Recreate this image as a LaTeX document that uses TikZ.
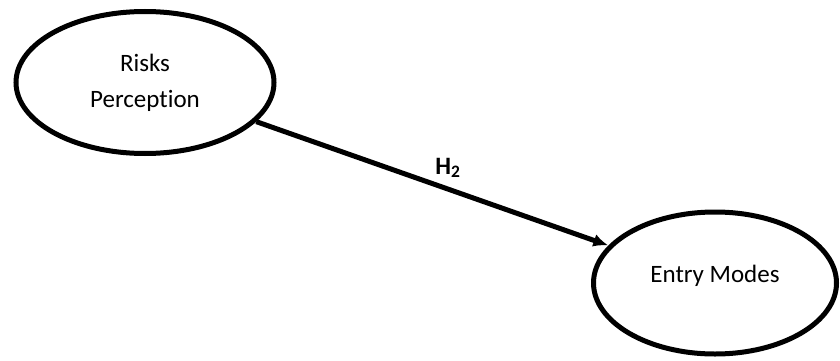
\documentclass[tikz,border=0pt]{standalone}
\usepackage{fontspec}
\setmainfont{Carlito}[Ligatures=CommonOff]
\usetikzlibrary{shapes.geometric,arrows.meta}
\tikzset{
  construct/.style={draw=black, ellipse, line width=5pt, align=center, inner sep=0pt, font=\fontsize{25}{36}\selectfont},
  arr/.style={-{Latex[length=15pt,width=13pt]}, line width=5pt, black}}

\begin{document}
\begin{tikzpicture}[x=1pt, y=-1pt]
\useasboundingbox (0,0) rectangle (840,361);
\node[construct, minimum width=258pt, minimum height=142pt] (risk) at (145,82.5) {Risks\\Perception};
\node[construct, minimum width=243pt, minimum height=142pt] (entry) at (715,283) {\raisebox{18pt}{Entry Modes}};
\draw[arr] (risk) -- node[pos=0.55, anchor=south, yshift=6pt, xshift=-2pt, font=\fontsize{25}{30}\selectfont\bfseries] (h2) {H\textsubscript{2}} (entry);
\end{tikzpicture}
\end{document}
